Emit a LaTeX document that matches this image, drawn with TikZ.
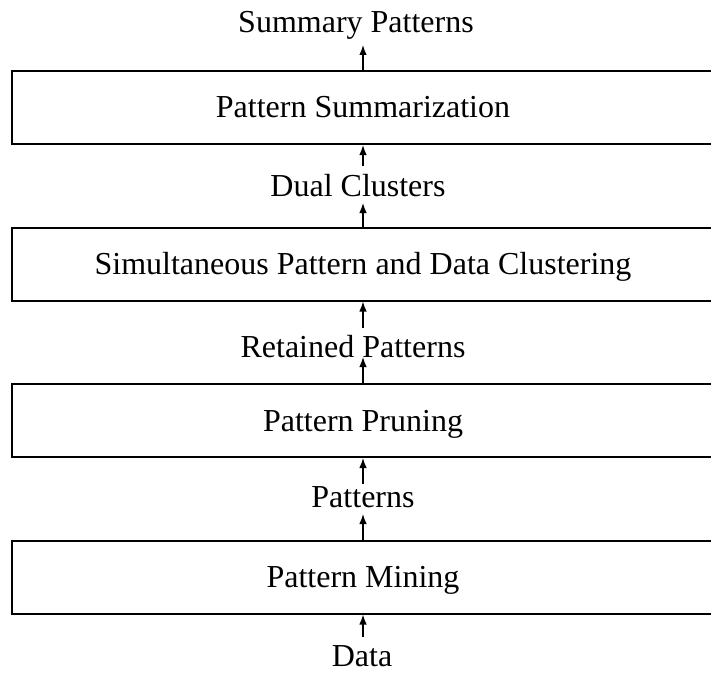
\documentclass[tikz,border=0pt]{standalone}
\usepackage{fontspec}
\setmainfont{Liberation Serif}
\usetikzlibrary{arrows.meta}
\begin{document}
\begin{tikzpicture}[x=1bp,y=-1bp,
  box/.style={draw, line width=2bp, minimum width=702bp, minimum height=73bp,
    inner sep=0pt, text height=21bp, text depth=0bp,
    font=\fontsize{32bp}{38bp}\selectfont},
  lbl/.style={inner sep=0pt, anchor=base, font=\fontsize{32bp}{38bp}\selectfont},
  arr/.style={line width=1.3bp, -{Latex[length=10bp,width=7.5bp]}}]
\useasboundingbox (0,0) rectangle (711,673);
\clip (0,0) rectangle (711,673);

\node[box] (b1) at (363,107.5) {Pattern Summarization};
\node[box] (b2) at (363,264) {Simultaneous Pattern and Data Clustering};
\node[box] (b3) at (363,420.5) {Pattern Pruning};
\node[box] (b4) at (363,577) {Pattern Mining};

\node[lbl] (l0) at (356,33) {Summary Patterns};
\node[lbl] (l1) at (358,196) {Dual Clusters};
\node[lbl] (l2) at (353,357) {Retained Patterns};
\node[lbl] (l3) at (363,507) {Patterns};
\node[lbl] (l4) at (362,666) {Data};

\coordinate (t0) at (363,45);
\coordinate (t1a) at (363,203);
\coordinate (t1b) at (363,166);
\coordinate (t2a) at (363,357);
\coordinate (t2b) at (363,328);
\coordinate (t3a) at (363,514);
\coordinate (t3b) at (363,484);
\coordinate (t4) at (363,637);

\draw[arr] (b1.north) -- (t0);
\draw[arr] (b2.north) -- (t1a);
\draw[arr] (t1b) -- (b1.south);
\draw[arr] (b3.north) -- (t2a);
\draw[arr] (t2b) -- (b2.south);
\draw[arr] (b4.north) -- (t3a);
\draw[arr] (t3b) -- (b3.south);
\draw[arr] (t4) -- (b4.south);
\end{tikzpicture}
\end{document}
